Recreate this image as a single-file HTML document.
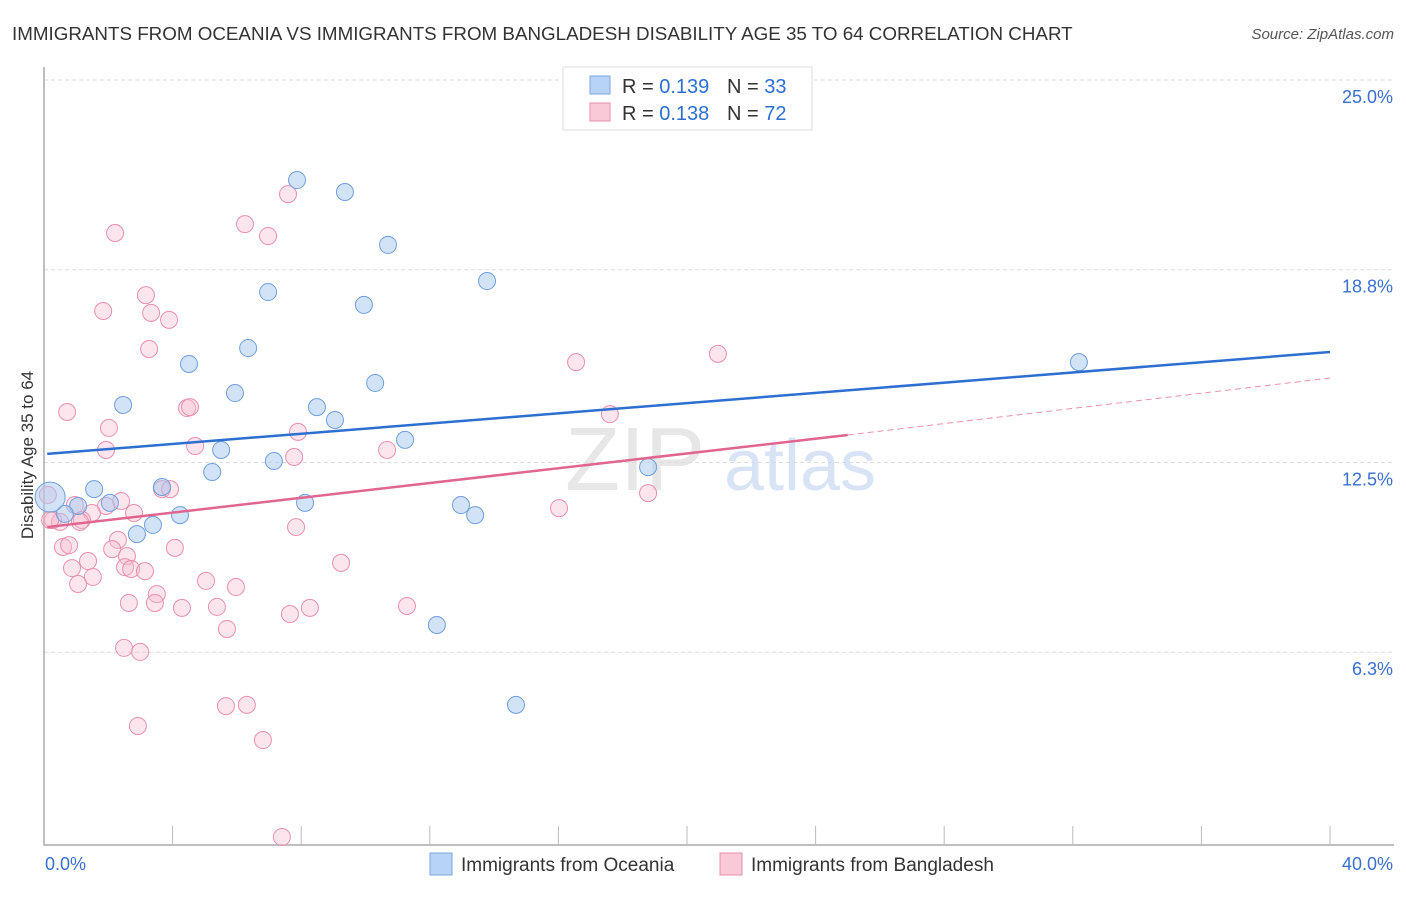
<!DOCTYPE html>
<html><head><meta charset="utf-8"><style>
body{margin:0;background:#fff;font-family:"Liberation Sans",sans-serif;}
svg text{font-family:"Liberation Sans",sans-serif;}
</style></head><body>
<svg id="chart" width="1406" height="892" viewBox="0 0 1406 892" xmlns="http://www.w3.org/2000/svg">
<text x="12" y="40" font-size="18.8" fill="#333">IMMIGRANTS FROM OCEANIA VS IMMIGRANTS FROM BANGLADESH DISABILITY AGE 35 TO 64 CORRELATION CHART</text>
<text x="1394" y="39" font-size="15" fill="#555" font-style="italic" text-anchor="end">Source: ZipAtlas.com</text>
<g id="grid"></g>
<g>
<text x="635" y="490" font-size="90" fill="#ddd" font-family="Liberation Serif" text-anchor="middle" opacity="0.7">ZIP</text>
<text x="800" y="490" font-size="72" fill="#c8daf2" text-anchor="middle" opacity="0.7">atlas</text>
</g>
<g id="pts"></g>
<g id="lines"></g>
<text transform="translate(33,455) rotate(-90)" font-size="17" fill="#333" text-anchor="middle">Disability Age 35 to 64</text>
<g>
<rect x="563" y="67" width="249" height="63" fill="#fff" stroke="#ddd"/>
<rect x="590" y="76" width="20" height="18" fill="#b7d3f5" stroke="#7aa7e0"/>
<text x="622" y="93" font-size="20" fill="#333">R = <tspan fill="#2d6fd1">0.139</tspan></text>
<text x="727" y="93" font-size="20" fill="#333">N = <tspan fill="#2d6fd1">33</tspan></text>
<rect x="590" y="103" width="20" height="18" fill="#f9c9d8" stroke="#e890ae"/>
<text x="622" y="120" font-size="20" fill="#333">R = <tspan fill="#2d6fd1">0.138</tspan></text>
<text x="727" y="120" font-size="20" fill="#333">N = <tspan fill="#2d6fd1">72</tspan></text>
</g>
<g>
<rect x="430" y="853" width="22" height="22" fill="#b7d3f5" stroke="#7aa7e0"/>
<text x="461" y="871" font-size="19" fill="#333">Immigrants from Oceania</text>
<rect x="720" y="853" width="22" height="22" fill="#f9c9d8" stroke="#e890ae"/>
<text x="751" y="871" font-size="19" fill="#333">Immigrants from Bangladesh</text>
</g>
</svg>
<script>
const yTicks=[6.3,12.5,18.8,25.0];
const yTickLabels=["6.3%","12.5%","18.8%","25.0%"];
const xTickLabels=["0.0%","40.0%"];
const blueX=[7.87,9.36,10.70,13.78,6.97,9.95,6.35,4.51,32.19,10.30,5.94,2.46,8.49,9.05,11.23,5.51,7.15,18.79,5.23,1.56,3.67,2.05,8.12,1.06,12.97,13.41,4.23,0.65,3.39,2.89,12.22,14.68,0.19];
const blueY=[21.73,21.34,19.61,18.43,18.07,17.65,16.24,15.72,15.78,15.10,14.77,14.38,14.31,13.89,13.24,12.91,12.55,12.35,12.19,11.63,11.70,11.18,11.18,11.08,11.11,10.78,10.78,10.82,10.46,10.16,7.19,4.58,11.37];
const pinkX=[7.59,6.25,6.97,2.21,3.17,1.84,3.33,3.89,3.27,16.55,20.96,0.72,4.45,4.54,17.60,2.02,7.90,4.70,1.93,10.67,7.78,3.67,3.92,18.79,16.02,1.93,0.96,2.40,1.49,1.18,0.28,0.50,1.12,7.84,2.80,2.30,0.59,0.78,4.07,2.12,2.58,9.24,1.37,0.87,2.52,2.71,3.14,1.52,5.04,5.97,1.06,3.51,2.64,3.45,4.29,5.38,8.27,7.65,11.29,5.69,2.49,2.99,5.66,6.31,2.92,6.81,7.40,0.19,0.12];
const pinkY=[21.27,20.29,19.90,20.00,17.97,17.45,17.39,17.16,16.21,15.78,16.05,14.15,14.28,14.31,14.08,13.63,13.50,13.04,12.91,12.91,12.68,11.63,11.63,11.50,11.01,11.08,11.11,11.24,10.85,10.62,10.62,10.56,10.56,10.39,10.85,9.97,9.74,9.80,9.71,9.67,9.44,9.22,9.28,9.05,9.08,9.02,8.95,8.76,8.63,8.43,8.53,8.20,7.91,7.91,7.75,7.78,7.75,7.55,7.81,7.06,6.44,6.31,4.54,4.58,3.89,3.43,0.26,10.62,11.44];
const blueTrend=[[0.1,12.78],[40,16.11]];
const pinkTrend=[[0.1,10.39],[25,13.40],[40,15.26]];
const NS="http://www.w3.org/2000/svg";
const X=v=>44+v*32.15, Y=v=>845-v*30.6;
function mk(t,a,p){const e=document.createElementNS(NS,t);for(const k in a)e.setAttribute(k,a[k]);p.appendChild(e);return e;}
const g=document.getElementById('grid');
yTicks.forEach((t,i)=>{
 const l=mk('line',{x1:44,x2:1394,y1:Y(t),y2:Y(t),stroke:'#ddd','stroke-dasharray':'4,3'},g);
 
 
 const tx=mk('text',{x:1393,y:Y(t)+23,'font-size':18,fill:'#3a6fd0','text-anchor':'end'},g);
 tx.textContent=yTickLabels[i];
 
 
});
const ax=mk('path',{d:'M44 67 V845 H1394',fill:'none',stroke:'#aaa','stroke-width':1.5},g);


for(let i=1;i<=10;i++){const t=mk('line',{x1:X(i*4),x2:X(i*4),y1:826,y2:845,stroke:'#bbb'},g);
 
 }
[[0,'start',45],[40,'end',1393]].forEach((d,i)=>{const t=mk('text',{x:d[2],y:870,'font-size':18,fill:'#3a6fd0','text-anchor':d[1]},g);t.textContent=xTickLabels[i];
 
 });
const P=document.getElementById('pts');
pinkX.forEach((x,i)=>{const c=mk('circle',{cx:X(x),cy:Y(pinkY[i]),r:8.5,fill:'rgba(248,190,210,0.4)',stroke:'#e890ae','stroke-width':1},P);
 
 });
blueX.forEach((x,i)=>{const c=mk('circle',{cx:X(x),cy:Y(blueY[i]),r:i==blueX.length-1?15:8.5,fill:'rgba(165,200,242,0.5)',stroke:'#6f9fdc','stroke-width':1},P);
 
 });
const L=document.getElementById('lines');
const bl=mk('line',{x1:X(blueTrend[0][0]),y1:Y(blueTrend[0][1]),x2:X(blueTrend[1][0]),y2:Y(blueTrend[1][1]),stroke:'#2d6fd1','stroke-width':2.5},L);


const pl=mk('line',{x1:X(pinkTrend[0][0]),y1:Y(pinkTrend[0][1]),x2:X(pinkTrend[1][0]),y2:Y(pinkTrend[1][1]),stroke:'#e06690','stroke-width':2.5},L);


const pd=mk('line',{x1:X(pinkTrend[1][0]),y1:Y(pinkTrend[1][1]),x2:X(pinkTrend[2][0]),y2:Y(pinkTrend[2][1]),stroke:'#e890ae','stroke-width':1,'stroke-dasharray':'6,4'},L);


</script>
</body></html>
